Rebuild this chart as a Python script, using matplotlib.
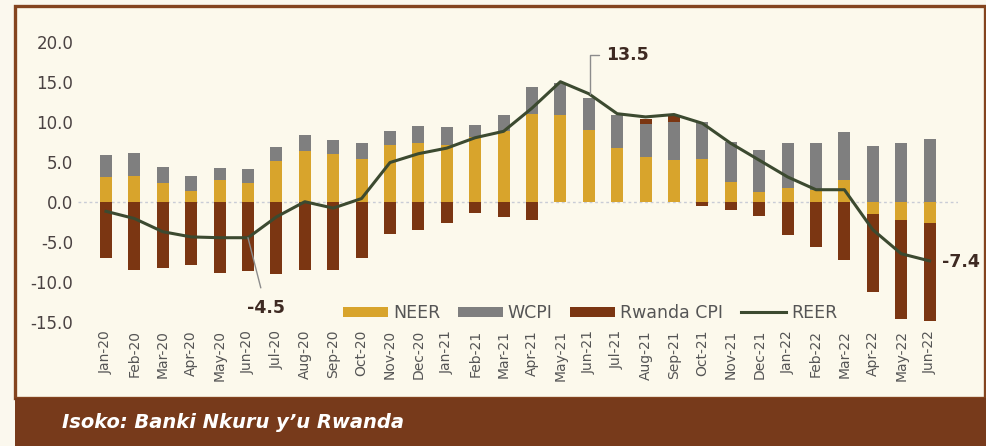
import numpy as np
import matplotlib.pyplot as plt
from matplotlib.patches import Rectangle

# data
months = ['Jan-20', 'Feb-20', 'Mar-20', 'Apr-20', 'May-20', 'Jun-20', 'Jul-20', 'Aug-20',
          'Sep-20', 'Oct-20', 'Nov-20', 'Dec-20', 'Jan-21', 'Feb-21', 'Mar-21', 'Apr-21',
          'May-21', 'Jun-21', 'Jul-21', 'Aug-21', 'Sep-21', 'Oct-21', 'Nov-21', 'Dec-21',
          'Jan-22', 'Feb-22', 'Mar-22', 'Apr-22', 'May-22', 'Jun-22']
neer = [3.1, 3.2, 2.3, 1.4, 2.7, 2.4, 5.1, 6.4, 6.0, 5.4, 7.1, 7.4, 7.1, 8.1, 8.9, 11.0,
        10.8, 9.0, 6.7, 5.6, 5.2, 5.3, 2.5, 1.25, 1.7, 1.5, 2.7, -1.5, -2.3, -2.6]
wcpi = [2.8, 2.9, 2.0, 1.8, 1.5, 1.7, 1.8, 2.0, 1.7, 2.0, 1.8, 2.1, 2.2, 1.5, 1.9, 3.3,
        4.0, 4.0, 4.1, 4.1, 4.8, 4.7, 5.0, 5.25, 5.6, 5.8, 6.05, 7.0, 7.3, 7.9]
rwanda_cpi = [-7.0, -8.5, -8.3, -7.9, -8.9, -8.7, -9.0, -8.5, -8.5, -7.0, -4.0, -3.5, -2.6,
              -1.4, -1.9, -2.3, 0.0, 0.0, 0.0, 0.6, 0.8, -0.5, -1.0, -1.8, -4.2, -5.6, -7.3,
              -9.8, -12.3, -12.3]
reer = [-1.2, -2.1, -3.75, -4.4, -4.5, -4.5, -1.9, 0.0, -0.8, 0.4, 4.9, 6.0, 6.7, 8.0, 8.8,
        11.7, 15.0, 13.5, 11.0, 10.6, 10.9, 9.8, 7.3, 5.2, 3.1, 1.5, 1.5, -3.5, -6.5, -7.4]
yticks = [-15, -10, -5, 0, 5, 10, 15, 20]

bg = '#FCF9EC'
W, H = 987, 446
fig = plt.figure(figsize=(W / 100, H / 100), dpi=100, facecolor='#FBF8EE')

# cream panel with brown frame, brown source band below
fig.patches.append(Rectangle((15.5 / W, 48 / H), 970 / W, 392 / H, transform=fig.transFigure,
                             facecolor=bg, edgecolor='#84441F', lw=2.4, zorder=-2))
fig.patches.append(Rectangle((15 / W, 0), 1 - 15 / W, 48 / H, transform=fig.transFigure,
                             facecolor='#773A1B', edgecolor='none', zorder=-1))
fig.text(62 / W, 24 / H, 'Isoko: Banki Nkuru y\u2019u Rwanda', color='white', fontsize=14,
         fontweight='bold', fontstyle='italic', va='center', ha='left')

ax = fig.add_axes([0.0786, 0.2697, 0.892, 0.6547])
ax.set_zorder(5)
ax.set_facecolor('none')

x = np.arange(len(months))
pos_bottom = np.zeros(len(months))
neg_bottom = np.zeros(len(months))
series = [(neer, '#D8A42C', 'NEER'), (wcpi, '#7F7F7F', 'WCPI'), (rwanda_cpi, '#7B3612', 'Rwanda CPI')]
for vals, color, label in series:
    v = np.array(vals)
    bottom = np.where(v >= 0, pos_bottom, neg_bottom)
    ax.bar(x, v, 0.42, bottom=bottom, color=color, label=label, zorder=2)
    pos_bottom += np.where(v > 0, v, 0)
    neg_bottom += np.where(v < 0, v, 0)

ax.axhline(0, color='#C9CCD6', lw=1, ls=(0, (2, 2)), zorder=1)
ax.plot(x, reer, color='#3C4A30', lw=2.2, label='REER', zorder=3)

# labels on the REER line
ax.annotate('-4.5', xy=(5, -4.5), xytext=(5.63, -13.25), ha='center', va='center',
            fontsize=12.5, fontweight='bold', color='#3E2A22',
            arrowprops=dict(arrowstyle='-', color='#8C8C8C', lw=1, shrinkA=6, shrinkB=0))
ax.annotate('13.5', xy=(17.05, 13.5), xytext=(18.35, 18.3), ha='center', va='center',
            fontsize=12.5, fontweight='bold', color='#3E2A22',
            arrowprops=dict(arrowstyle='-', color='#8C8C8C', lw=1, shrinkA=3, shrinkB=0,
                            connectionstyle='angle,angleA=0,angleB=90,rad=0'))
ax.text(29.42, -7.5, '-7.4', ha='left', va='center', fontsize=12.5, fontweight='bold',
        color='#3E2A22')

ax.set_xlim(-1, 30)
ax.set_ylim(-15.5, 21)
ax.set_yticks(yticks)
ax.set_yticklabels([f'{t:.1f}' for t in yticks])
ax.set_xticks(x)
ax.set_xticklabels(months, rotation=90)
ax.tick_params(axis='y', length=0, pad=3, labelsize=12, labelcolor='#4A4242')
ax.tick_params(axis='x', length=0, pad=3, labelsize=10, labelcolor='#555555')
for s in ax.spines.values():
    s.set_visible(False)

# legend order as in the original: NEER, WCPI, Rwanda CPI, REER
handles, labels = ax.get_legend_handles_labels()
order = [1, 2, 3, 0]
ax.legend([handles[i] for i in order], [labels[i] for i in order],
          loc='center', bbox_to_anchor=(0.582, 0.0435), ncol=4, frameon=False,
          fontsize=12.5, labelcolor='#555555', handlelength=2.6, handleheight=0.5,
          handletextpad=0.3, columnspacing=1.0)

fig.savefig('out.png', dpi=100, facecolor=fig.get_facecolor())
